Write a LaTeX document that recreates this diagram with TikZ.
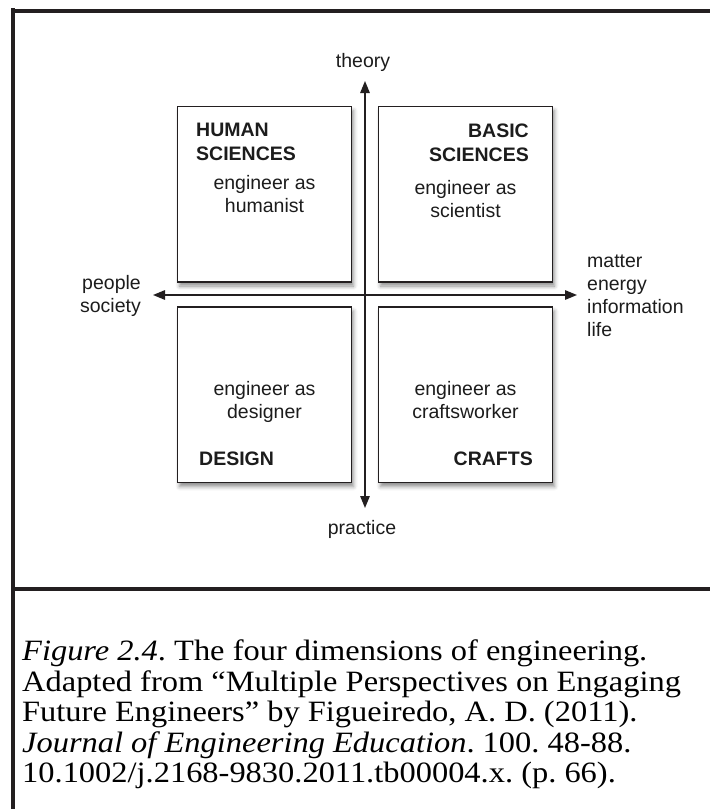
\documentclass[tikz,border=0pt]{standalone}
\usepackage{fontspec}
\setmainfont{Liberation Serif}
\newfontfamily\diagfont{Liberation Sans}
\newfontfamily\capfont[FakeStretch=1.1]{Liberation Serif}
\usetikzlibrary{positioning, arrows.meta, shadows.blur}
\definecolor{inkcol}{RGB}{35,31,32}
\definecolor{labelcol}{RGB}{28,28,28}
\frenchspacing

\begin{document}
\begin{tikzpicture}[
			x=1pt, y=-1pt,
			node distance=200.5pt and 201pt,
			on grid,
			quadrant/.style={
				draw=inkcol,
				line width=1.6pt,
				fill=white,
				minimum width=174pt,
				minimum height=175.5pt,
				inner sep=0pt,
				blur shadow={shadow xshift=2pt, shadow yshift=-4pt,
					shadow blur radius=4pt, shadow opacity=45}
			},
			title/.style={
				font=\diagfont\bfseries\fontsize{19.5}{24}\selectfont,
				inner sep=0pt,
				text=labelcol
			},
			role/.style={
				font=\diagfont\fontsize{19.5}{23}\selectfont,
				align=center,
				inner sep=0pt,
				text=labelcol
			},
			axislabel/.style={
				font=\diagfont\fontsize{19.5}{23}\selectfont,
				inner sep=0pt,
				text=labelcol
			},
			axis/.style={
				draw=inkcol,
				line width=1.4pt,
				{Triangle[length=12pt,width=9.5pt]}-{Triangle[length=12pt,width=9.5pt]}
			},
			frame/.style={
				draw=inkcol,
				line width=4pt
			},
			caption/.style={
				font=\capfont\fontsize{29.5}{30.5}\selectfont,
				align=left,
				inner sep=0pt,
				anchor=north west
			}
			]
			\useasboundingbox (0,0) rectangle (710,809);
			
			% Frame
			\draw[frame] (13,8) -- (13,809);
			\draw[frame] (11,11) -- (710,11);
			\draw[frame] (11,589) -- (710,589);
			
			% Quadrants
			\node[quadrant] (human) at (264.5,194.3) {};
			\node[quadrant] (basic) [right=of human] {};
			\node[quadrant] (design) [below=of human] {};
			\node[quadrant] (crafts) [right=of design] {};
			
			% Quadrant texts
			\node[title, anchor=north west, align=left] (humant) at (196,123) {HUMAN\\SCIENCES};
			\node[role, anchor=north] (humanr) at (264.5,175.5) {engineer as\\humanist};
			\node[title, anchor=north east, align=right] (basict) at (529,124) {BASIC\\SCIENCES};
			\node[role, anchor=north] (basicr) at (465.5,180.5) {engineer as\\scientist};
			\node[role, anchor=north] (designr) at (264.5,381) {engineer as\\designer};
			\node[title, anchor=north west] (designt) at (199,451.7) {DESIGN};
			\node[role, anchor=north] (craftsr) at (465.5,381) {engineer as\\craftsworker};
			\node[title, anchor=north east] (craftst) at (533,451.7) {CRAFTS};
			
			% Axes
			\node[axislabel] (theory) at (363,62) {theory};
			\node[axislabel] (practice) at (362,529) {practice};
			\node[axislabel, anchor=east, align=right] (people) at (141,296) {people\\society};
			\node[axislabel, anchor=west, align=left] (matter) at (587,296) {matter\\energy\\information\\life};
			\coordinate (up) at (365,81);
			\coordinate (down) at (365,508);
			\coordinate (west) at (153,295);
			\coordinate (east) at (577,295);
			\draw[axis] (down) -- (up);
			\draw[axis] (west) -- (east);
			
			% Caption
			\node[caption] (cap) at (22,640) {\textit{Figure 2.4}. The four dimensions of engineering.\\
				Adapted from “Multiple Perspectives on Engaging\\
				Future Engineers” by Figueiredo, A. D. (2011).\\
				\textit{Journal of Engineering Education}. 100. 48-88.\\
				10.1002/j.2168-9830.2011.tb00004.x. (p. 66).};
		\end{tikzpicture}
\end{document}
